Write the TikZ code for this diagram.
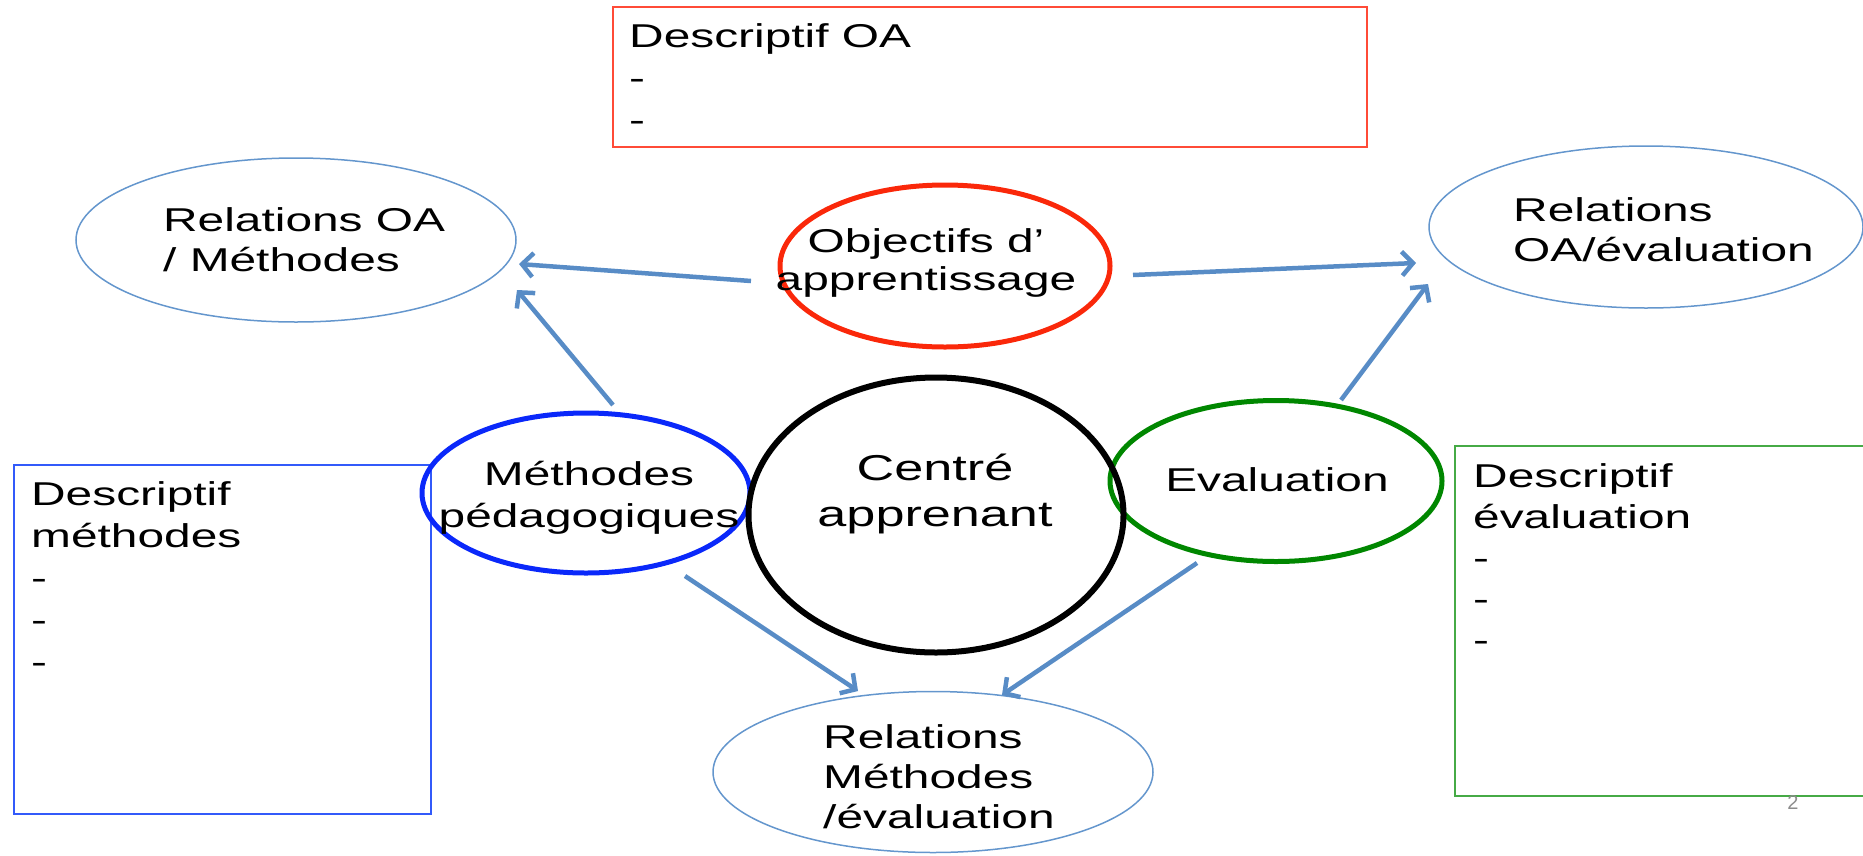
\documentclass[tikz,border=0pt]{standalone}
\usepackage{fontspec}
\setmainfont{Liberation Sans}[FakeStretch=1.45]
\newfontfamily\pnfont{Liberation Sans}
\usetikzlibrary{shapes.geometric,arrows.meta}
\definecolor{arrowblue}{RGB}{88,140,198}
\definecolor{relblue}{RGB}{100,150,205}
\definecolor{boxred}{RGB}{255,75,55}
\definecolor{ellred}{RGB}{250,40,10}
\definecolor{ellblue}{RGB}{10,40,250}
\definecolor{boxblue}{RGB}{50,90,250}
\definecolor{ellgreen}{RGB}{0,135,0}
\definecolor{boxgreen}{RGB}{70,170,70}
\definecolor{pagegray}{RGB}{140,140,140}
\begin{document}
\begin{tikzpicture}[x=1pt,y=-1pt,
  framebox/.style={rectangle, draw, inner sep=0pt, anchor=north west},
  blob/.style={ellipse, draw, inner sep=0pt},
  rel/.style={blob, draw=relblue, line width=1.5pt},
  thickblob/.style={blob, line width=5pt},
  txt/.style={inner sep=0pt, font=\fontsize{33}{40}\selectfont},
  link/.style={color=arrowblue, line width=4.5pt, -{Straight Barb[length=11pt,width=24pt]}}
]
\useasboundingbox (0,0) rectangle (1863,855);
\clip (0,0) rectangle (1863,855);

% boxes
\node[framebox, draw=boxred, line width=2pt, minimum width=754pt, minimum height=140pt] (oabox) at (612,6) {};
\node[framebox, draw=boxblue, line width=1.8pt, minimum width=417pt, minimum height=349pt] (mbox) at (13,464) {};
\node[framebox, draw=boxgreen, line width=2pt, minimum width=440pt, minimum height=350pt] (ebox) at (1454,445) {};

% ellipses
\node[rel, minimum width=440pt, minimum height=164pt] (rom) at (296,240) {};
\node[rel, minimum width=434pt, minimum height=162pt] (roe) at (1646,227) {};
\node[rel, minimum width=440pt, minimum height=161pt] (rme) at (933,772) {};
\node[thickblob, draw=ellred, minimum width=330pt, minimum height=162pt] (obj) at (945,266) {};
\node[thickblob, draw=ellblue, minimum width=328pt, minimum height=160pt] (meth) at (586,493) {};
\node[thickblob, draw=ellgreen, minimum width=332pt, minimum height=161pt] (eval) at (1276,481) {};
\node[blob, draw=black, line width=6pt, minimum width=375pt, minimum height=275pt] (cen) at (936,515) {};

% texts
\node[txt, font=\fontsize{33}{42}\selectfont, align=left, anchor=north west] (oabox-t) at (629,19) {\rule{0pt}{28pt}Descriptif OA\\-\\-};
\node[txt, font=\fontsize{33}{42}\selectfont, align=left, anchor=north west] (mbox-t) at (31,477) {\rule{0pt}{28pt}Descriptif\\méthodes\\-\\-\\-};
\node[txt, font=\fontsize{33}{41}\selectfont, align=left, anchor=north west] (ebox-t) at (1473,459) {\rule{0pt}{28pt}Descriptif\\évaluation\\-\\-\\-};
\node[txt, align=left, anchor=north west] (rom-t) at (163,203) {\rule{0pt}{28pt}Relations OA\\/ Méthodes};
\node[txt, align=left, anchor=north west] (roe-t) at (1513,193) {\rule{0pt}{28pt}Relations\\OA/évaluation};
\node[txt, align=left, anchor=north west] (rme-t) at (823,720) {\rule{0pt}{28pt}Relations\\Méthodes\\/évaluation};
\node[txt, font=\fontsize{33}{38}\selectfont, align=center, anchor=north] (obj-t) at (926,224) {\rule{0pt}{28pt}Objectifs d’\\apprentissage};
\node[txt, font=\fontsize{33}{42}\selectfont, align=center, anchor=north] (meth-t) at (589,457) {\rule{0pt}{28pt}Méthodes\\pédagogiques};
\node[txt, font=\fontsize{36}{46}\selectfont, align=center, anchor=north] (cen-t) at (935,450) {\rule{0pt}{30pt}Centré\\apprenant};
\node[txt, anchor=north] (eval-t) at (1277,463) {\rule{0pt}{28pt}Evaluation};
\node[inner sep=0pt, font=\pnfont\fontsize{20}{24}\selectfont, text=pagegray] (pagenum) at (1793,803) {2};

% connector end points
\coordinate (a1) at ([shift={(-194,15)}]obj.center);
\coordinate (a2) at ([shift={(223,24)}]rom.center);
\coordinate (b1) at ([shift={(27,-88)}]meth.center);
\coordinate (b2) at ([shift={(221,50)}]rom.center);
\coordinate (c1) at ([shift={(188,9)}]obj.center);
\coordinate (c2) at ([shift={(-230,36)}]roe.center);
\coordinate (d1) at ([shift={(65,-81)}]eval.center);
\coordinate (d2) at ([shift={(-218,57)}]roe.center);
\coordinate (e1) at ([shift={(99,83)}]meth.center);
\coordinate (e2) at ([shift={(-75,-81)}]rme.center);
\coordinate (f1) at ([shift={(-79,82)}]eval.center);
\coordinate (f2) at ([shift={(69,-77)}]rme.center);

% connectors
\draw[link] (a1) -- (a2);
\draw[link] (b1) -- (b2);
\draw[link] (c1) -- (c2);
\draw[link] (d1) -- (d2);
\draw[link] (e1) -- (e2);
\draw[link] (f1) -- (f2);
\end{tikzpicture}
\end{document}
